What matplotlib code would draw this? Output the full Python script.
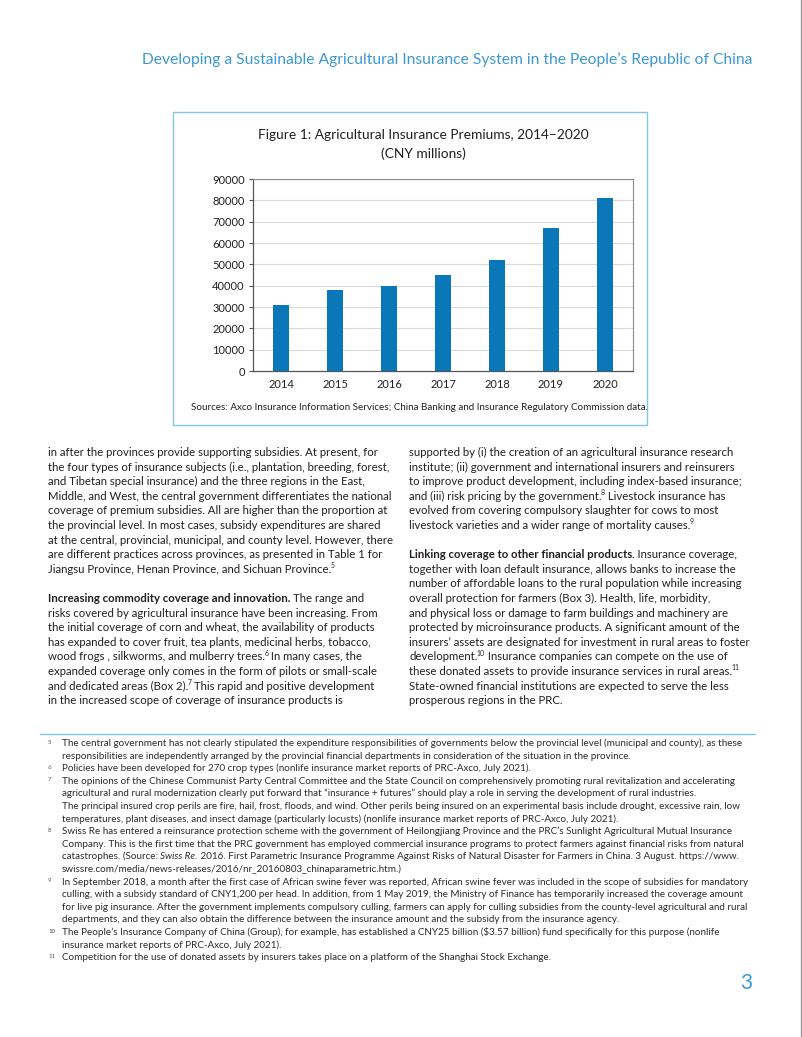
import matplotlib
matplotlib.use("Agg")
import matplotlib.pyplot as plt
from matplotlib import font_manager
from matplotlib.patches import Rectangle
from matplotlib.lines import Line2D

# ---------------- data ----------------
years = ["2014", "2015", "2016", "2017", "2018", "2019", "2020"]
premiums = [31000, 37800, 40000, 44800, 51900, 66800, 80900]
y_ticks = [0, 10000, 20000, 30000, 40000, 50000, 60000, 70000, 80000, 90000]

header_text = "Developing a Sustainable Agricultural Insurance System in the People\u2019s Republic of China"
chart_title = ["Figure 1: Agricultural Insurance Premiums, 2014\u20132020", "(CNY millions)"]
chart_source = "Sources: Axco Insurance Information Services; China Banking and Insurance Regulatory Commission data."
page_number = "3"

left_par1 = [
    "in after the provinces provide supporting subsidies. At present, for",
    "the four types of insurance subjects (i.e., plantation, breeding, forest,",
    "and Tibetan special insurance) and the three regions in the East,",
    "Middle, and West, the central government differentiates the national",
    "coverage of premium subsidies. All are higher than the proportion at",
    "the provincial level. In most cases, subsidy expenditures are shared",
    "at the central, provincial, municipal, and county level. However, there",
    "are different practices across provinces, as presented in Table 1 for",
    [("Jiangsu Province, Henan Province, and Sichuan Province.", "n"), ("5", "sup")],
]
left_par2 = [
    [("Increasing commodity coverage and innovation. ", "b"), ("The range and", "n")],
    "risks covered by agricultural insurance have been increasing. From",
    "the initial coverage of corn and wheat, the availability of products",
    "has expanded to cover fruit, tea plants, medicinal herbs, tobacco,",
    [("wood frogs , silkworms, and mulberry trees.", "n"), ("6", "sup"), (" In many cases, the", "n")],
    "expanded coverage only comes in the form of pilots or small-scale",
    [("and dedicated areas (Box 2).", "n"), ("7", "sup"), (" This rapid and positive development", "n")],
    "in the increased scope of coverage of insurance products is",
]
right_par1 = [
    "supported by (i) the creation of an agricultural insurance research",
    "institute; (ii) government and international insurers and reinsurers",
    "to improve product development, including index-based insurance;",
    [("and (iii) risk pricing by the government.", "n"), ("8", "sup"), (" Livestock insurance has", "n")],
    "evolved from covering compulsory slaughter for cows to most",
    [("livestock varieties and a wider range of mortality causes.", "n"), ("9", "sup")],
]
right_par2 = [
    [("Linking coverage to other financial products", "b"), (". Insurance coverage,", "n")],
    "together with loan default insurance, allows banks to increase the",
    "number of affordable loans to the rural population while increasing",
    "overall protection for farmers (Box 3). Health, life, morbidity,",
    "and physical loss or damage to farm buildings and machinery are",
    "protected by microinsurance products. A significant amount of the",
    "insurers\u2019 assets are designated for investment in rural areas to foster",
    [("development.", "n"), ("10", "sup"), (" Insurance companies can compete on the use of", "n")],
    [("these donated assets to provide insurance services in rural areas.", "n"), ("11", "sup")],
    "State-owned financial institutions are expected to serve the less",
    "prosperous regions in the PRC.",
]

footnotes = [
    ("5", [
        "The central government has not clearly stipulated the expenditure responsibilities of governments below the provincial level (municipal and county), as these",
        "responsibilities are independently arranged by the provincial financial departments in consideration of the situation in the province.",
    ]),
    ("6", [
        "Policies have been developed for 270 crop types (nonlife insurance market reports of PRC-Axco, July 2021).",
    ]),
    ("7", [
        "The opinions of the Chinese Communist Party Central Committee and the State Council on comprehensively promoting rural revitalization and accelerating",
        "agricultural and rural modernization clearly put forward that \u201cinsurance + futures\u201d should play a role in serving the development of rural industries.",
        "The principal insured crop perils are fire, hail, frost, floods, and wind. Other perils being insured on an experimental basis include drought, excessive rain, low",
        "temperatures, plant diseases, and insect damage (particularly locusts) (nonlife insurance market reports of PRC-Axco, July 2021).",
    ]),
    ("8", [
        "Swiss Re has entered a reinsurance protection scheme with the government of Heilongjiang Province and the PRC\u2019s Sunlight Agricultural Mutual Insurance",
        "Company. This is the first time that the PRC government has employed commercial insurance programs to protect farmers against financial risks from natural",
        [("catastrophes. (Source: ", "n"), ("Swiss Re.", "i"), (" 2016. First Parametric Insurance Programme Against Risks of Natural Disaster for Farmers in China. 3 August. https://www.", "n")],
        "swissre.com/media/news-releases/2016/nr_20160803_chinaparametric.htm.)",
    ]),
    ("9", [
        "In September 2018, a month after the first case of African swine fever was reported, African swine fever was included in the scope of subsidies for mandatory",
        "culling, with a subsidy standard of CNY1,200 per head. In addition, from 1 May 2019, the Ministry of Finance has temporarily increased the coverage amount",
        "for live pig insurance. After the government implements compulsory culling, farmers can apply for culling subsidies from the county-level agricultural and rural",
        "departments, and they can also obtain the difference between the insurance amount and the subsidy from the insurance agency.",
    ]),
    ("10", [
        "The People\u2019s Insurance Company of China (Group), for example, has established a CNY25 billion (\\$3.57 billion) fund specifically for this purpose (nonlife",
        "insurance market reports of PRC-Axco, July 2021).",
    ]),
    ("11", [
        "Competition for the use of donated assets by insurers takes place on a platform of the Shanghai Stock Exchange.",
    ]),
]

# ---------------- styling ----------------
W, H = 802, 1037
BLUE_TXT = "#3B98D3"
BOX_BLUE = "#86C5EA"
BAR = "#0A77B8"
TXT = "#231F20"
NOTE_TXT = "#2b2b2b"

names = {f.name for f in font_manager.fontManager.ttflist}
BODY = "Lato" if "Lato" in names else "DejaVu Sans"

fig = plt.figure(figsize=(W / 100, H / 100), dpi=100)
fig.patch.set_facecolor("white")
R = fig.canvas.get_renderer()


def fx(x):
    return x / W


def fy(y):
    return 1 - y / H


def tw(s, **kw):
    t = fig.text(0, 0, s, **kw)
    w = t.get_window_extent(R).width
    t.remove()
    return w


def adv(s, **kw):
    return tw("|" + s + "|", **kw) - tw("||", **kw)


def fit(s, target, **kw):
    return 10.0 * target / tw(s, fontsize=10, **kw)


def put(x, y, s, **kw):
    kw.setdefault("va", "baseline")
    return fig.text(fx(x), fy(y), s, **kw)


def draw_line(x, y, spec, size, color, family=BODY):
    if isinstance(spec, str):
        spec = [(spec, "n")]
    for text, style in spec:
        kw = dict(family=family, fontsize=size, color=color)
        dy = 0.0
        dx = 0.0
        if style == "b":
            kw["weight"] = "bold"
        elif style == "i":
            kw["style"] = "italic"
        elif style == "sup":
            kw["fontsize"] = size * 0.6
            dy = -size * 0.42 * 100 / 72
            dx = -0.8
        put(x + dx, y + dy, text, **kw)
        x += adv(text, **kw) + dx
    return x


# ---------------- header ----------------
hs = fit(header_text, 609, family=BODY)
put(752, 64, header_text, family=BODY, fontsize=hs, color=BLUE_TXT, ha="right")
fig.add_artist(Line2D([fx(800.5), fx(800.5)], [0, 1], color="#9a9a9a", lw=1.0))

# ---------------- chart box ----------------
fig.add_artist(Rectangle((fx(173), fy(425)), (647 - 173) / W, (425 - 112) / H,
                         fill=False, edgecolor=BOX_BLUE, lw=1.0, transform=fig.transFigure))
ts = fit(chart_title[0], 329, family=BODY)
put(423, 139, chart_title[0], family=BODY, fontsize=ts, color=TXT, ha="center")
put(423, 158, chart_title[1], family=BODY, fontsize=ts, color=TXT, ha="center")

ax = fig.add_axes([fx(253), fy(371), (633 - 253) / W, (371 - 179) / H])
xpos = list(range(len(years)))
ax.bar(xpos, premiums, width=0.31, color=BAR, zorder=3)
ax.set_xlim(-0.52, 6.52)
ax.set_ylim(0, 90000)
ax.set_yticks(y_ticks)
tick_fs = fit("90000", 32, family=BODY)
ax.set_yticklabels([str(v) for v in y_ticks], family=BODY, fontsize=tick_fs, color=TXT)
ax.set_xticks(xpos)
ax.set_xticklabels(years, family=BODY, fontsize=tick_fs, color=TXT)
ax.tick_params(axis="x", length=0, pad=6)
ax.tick_params(axis="y", length=3, width=0.8, color="#555555", pad=3)
ax.grid(axis="y", color="#d9d9d9", lw=0.8, zorder=0)
for side in ("top", "right"):
    ax.spines[side].set_color("#8c8c8c")
    ax.spines[side].set_linewidth(0.8)
for side in ("left", "bottom"):
    ax.spines[side].set_color("#555555")
    ax.spines[side].set_linewidth(0.9)

ss = fit(chart_source, 456, family=BODY)
put(191, 410, chart_source, family=BODY, fontsize=ss, color=TXT)

# ---------------- body text ----------------
bs = fit("insurers\u2019 assets are designated for investment in rural areas to foster", 343, family=BODY)
LH = 14.6
y = 456
for line in left_par1:
    draw_line(48, y, line, bs, TXT)
    y += LH
y += LH
for line in left_par2:
    draw_line(48, y, line, bs, TXT)
    y += LH
y = 456
for line in right_par1:
    draw_line(409, y, line, bs, TXT)
    y += LH
y += LH
for line in right_par2:
    draw_line(409, y, line, bs, TXT)
    y += LH

# ---------------- footnotes ----------------
fig.add_artist(Line2D([fx(40), fx(755)], [fy(734), fy(734)], color=BOX_BLUE, lw=1.0))
ns = fit(footnotes[0][1][0], 681, family=BODY)
FLH = 12.6
y = 746
for num, lines in footnotes:
    put(48, y - 2.5, num, family=BODY, fontsize=ns * 0.62, color="#555555")
    for line in lines:
        draw_line(62, y, line, ns, NOTE_TXT)
        y += FLH

put(752, 989, page_number, family=BODY, fontsize=15, color=BLUE_TXT, ha="right")

fig.savefig("out.png", dpi=100, facecolor="white")
